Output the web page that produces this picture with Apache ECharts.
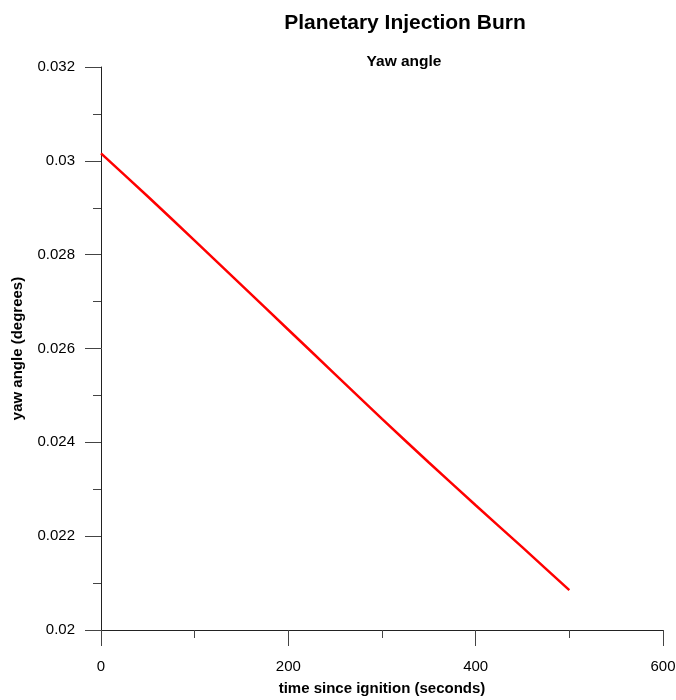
<!DOCTYPE html>
<html>
<head>
<meta charset="utf-8">
<script src="https://cdn.jsdelivr.net/npm/echarts@6/dist/echarts.min.js"></script>
<style>
  html, body { margin: 0; padding: 0; background: #fff; }
  #chart { width: 676px; height: 700px; }
</style>
</head>
<body>
<div id="chart"></div>
<script>
// time since ignition (s) and yaw angle (deg)
var times = [0, 50, 100, 150, 200, 250, 300, 350, 400, 450, 500];
var yawAngle = [0.03016, 0.02924, 0.02830, 0.02735, 0.02640, 0.02545, 0.02450, 0.02357, 0.02266, 0.02176, 0.02085];

var xMin = 0, xMax = 600, xStep = 200;
var yMin = 0.02, yMax = 0.032, yStep = 0.002;

var points = times.map(function(t, i) { return [t, yawAngle[i]]; });

var myChart = echarts.init(document.getElementById('chart'));

var font = 'Liberation Sans, Arial, sans-serif';

var option = {
    backgroundColor: '#fff',
    animation: false,
    title: [{
        text: 'Planetary Injection Burn',
        left: 400,
        top: 8,
        textAlign: 'center',
        textStyle: { fontFamily: font, fontSize: 21, fontWeight: 'bold', color: '#000' }
    }, {
        text: 'Yaw angle',
        left: 399,
        top: 49,
        textAlign: 'center',
        textStyle: { fontFamily: font, fontSize: 15.5, fontWeight: 'bold', color: '#000' }
    }],
    grid: { left: 101, right: 13, top: 67, bottom: 70, outerBoundsMode: 'none' },
    xAxis: {
        type: 'value',
        min: xMin,
        max: xMax,
        interval: xStep,
        name: 'time since ignition (seconds)',
        nameLocation: 'middle',
        nameGap: 51,
        nameTextStyle: { fontFamily: font, fontSize: 15, fontWeight: 'bold', color: '#000' },
        axisLine: { show: true, onZero: false, lineStyle: { color: '#222', width: 1 } },
        axisTick: { show: true, inside: false, length: 16, lineStyle: { color: '#444' } },
        minorTick: { show: true, splitNumber: 2, length: 8, lineStyle: { color: '#444' } },
        splitLine: { show: false },
        axisLabel: { fontFamily: font, fontSize: 15, color: '#000', margin: 29 }
    },
    yAxis: {
        type: 'value',
        min: yMin,
        max: yMax,
        interval: yStep,
        name: 'yaw angle (degrees)',
        nameLocation: 'middle',
        nameGap: 76,
        nameTextStyle: { fontFamily: font, fontSize: 15, fontWeight: 'bold', color: '#000' },
        axisLine: { show: true, onZero: false, lineStyle: { color: '#222', width: 1 } },
        axisTick: { show: true, inside: false, length: 16, lineStyle: { color: '#444' } },
        minorTick: { show: true, splitNumber: 2, length: 8, lineStyle: { color: '#444' } },
        splitLine: { show: false },
        axisLabel: { fontFamily: font, fontSize: 15, color: '#000', margin: 26 }
    },
    series: [{
        type: 'line',
        data: points,
        showSymbol: false,
        smooth: 0.2,
        lineStyle: { color: '#ff0000', width: 2.5 }
    }]
};

myChart.setOption(option);
</script>
</body>
</html>
